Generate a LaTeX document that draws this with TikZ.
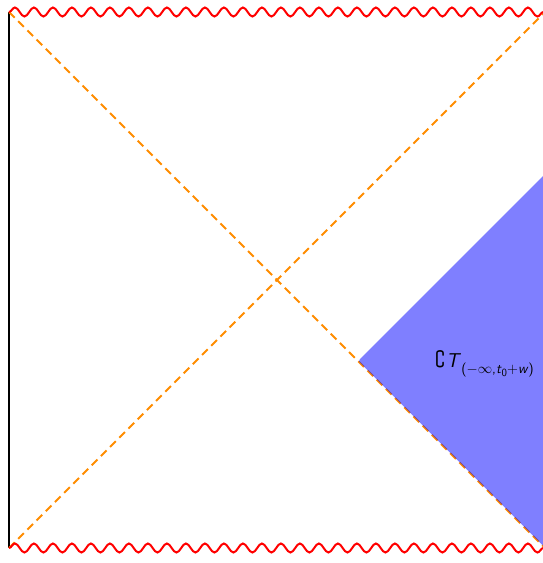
\documentclass[tikz,border=0pt]{standalone}
\usepackage{amsmath,amssymb}
\usetikzlibrary{decorations.pathmorphing}
\definecolor{dashorange}{RGB}{255,140,0}
\tikzset{
  singular/.style={red, line width=2pt, decorate, decoration={snake, segment length=19pt, amplitude=4.5pt}},
  horizon/.style={dashorange, line width=2pt, dash pattern=on 8pt off 5pt},
  region/.style={fill=blue, fill opacity=0.5},
  boundary/.style={black, line width=1.2pt}
}
\begin{document}
\begin{tikzpicture}[x=1pt,y=-1pt]
\useasboundingbox (0,0) rectangle (543,563);
\clip (0,0) rectangle (543,563);
\coordinate (tl) at (9,12);
\coordinate (bl) at (9,548);
\coordinate (tr) at (545,12);
\coordinate (br) at (545,548);
\coordinate (apex) at (360,359);
\coordinate (apexlow) at (359,361.5);
\coordinate (up) at (545,174);
\coordinate (down) at (545,547.5);
\draw[boundary] (tl) -- (bl);
\draw[horizon] (tl) -- (br);
\draw[horizon] (bl) -- (tr);
\path[region] (apexlow) -- (apex) -- (up) -- (down) -- cycle;
\draw[singular] (tl) -- (tr);
\draw[singular] (bl) -- (br);
\node[anchor=base west, inner sep=0pt] (lab) at (435,367)
  {\fontsize{20}{24}\selectfont$\boldsymbol{\complement}$\kern1pt\textsf{\textit{T}}\raisebox{-6pt}{\fontsize{14}{16}\selectfont\sffamily($-\infty$,\textit{t}\raisebox{-3pt}{\fontsize{11}{13}\selectfont 0}$+$\textit{w})}};
\end{tikzpicture}
\end{document}
